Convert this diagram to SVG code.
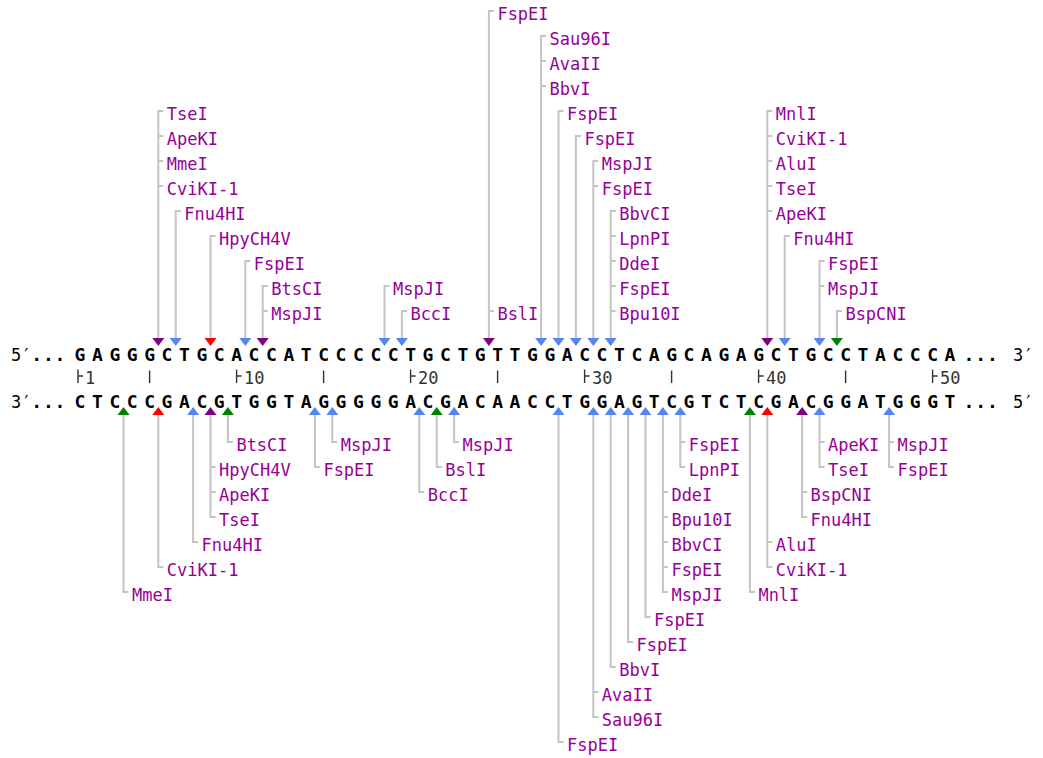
<svg xmlns="http://www.w3.org/2000/svg" width="1043" height="758" viewBox="0 0 1043 758">
<style>
  .lbl { font-family: "DejaVu Sans Mono", "Liberation Mono", monospace; font-size: 17px; fill: #960096; }
  .seq { font-family: "DejaVu Sans Mono", "Liberation Mono", monospace; font-size: 18px; font-weight: bold; fill: #000; }
  .end { font-family: "DejaVu Sans Mono", "Liberation Mono", monospace; font-size: 17px; fill: #000; }
  .dots { font-family: "DejaVu Sans Mono", "Liberation Mono", monospace; font-size: 18px; font-weight: bold; fill: #000; }
  .num { font-family: "DejaVu Sans Mono", "Liberation Mono", monospace; font-size: 17px; fill: #333; }
  .tick { stroke: #333; stroke-width: 1.4; fill: none; }
  .lead { stroke: #c4c4c4; stroke-width: 2; fill: none; }
  .pu { fill: #800080; }
  .bl { fill: #5585f0; }
  .rd { fill: #ff0000; }
  .gr { fill: #008000; }
</style>
<defs>
  <path id="dn" d="M-6,0 H6 L0,8 Z"/>
  <path id="up" d="M-6,0 H6 L0,-8 Z"/>
</defs>
<rect width="1043" height="758" fill="#fff"/>

<!-- leader lines from each cut site to its enzyme labels -->
<g id="connectors" class="lead">
  <!-- top strand -->
  <path d="M158.3,338 V111 h5 M158.3,136 h5 M158.3,161 h5 M158.3,186 h5"/>
  <path d="M175.7,338 V211 h5"/>
  <path d="M210.5,338 V236 h5"/>
  <path d="M245.3,338 V261 h5"/>
  <path d="M262.7,338 V286 h5 M262.7,311 h5"/>
  <path d="M384.5,338 V286 h5"/>
  <path d="M401.9,338 V311 h5"/>
  <path d="M488.9,338 V11 h5 M488.9,311 h5"/>
  <path d="M541.1,338 V36 h5 M541.1,61 h5 M541.1,86 h5"/>
  <path d="M558.5,338 V111 h5"/>
  <path d="M575.9,338 V136 h5"/>
  <path d="M593.3,338 V161 h5 M593.3,186 h5"/>
  <path d="M610.7,338 V211 h5 M610.7,236 h5 M610.7,261 h5 M610.7,286 h5 M610.7,311 h5"/>
  <path d="M767.3,338 V111 h5 M767.3,136 h5 M767.3,161 h5 M767.3,186 h5 M767.3,211 h5"/>
  <path d="M784.7,338 V236 h5"/>
  <path d="M819.5,338 V261 h5 M819.5,286 h5"/>
  <path d="M836.9,338 V311 h5"/>
  <!-- bottom strand -->
  <path d="M123.5,415 V592 h5"/>
  <path d="M158.3,415 V567 h5"/>
  <path d="M193.1,415 V542 h5"/>
  <path d="M210.5,415 V517 h5 M210.5,467 h5 M210.5,492 h5"/>
  <path d="M227.9,415 V442 h5"/>
  <path d="M314.9,415 V467 h5"/>
  <path d="M332.3,415 V442 h5"/>
  <path d="M419.3,415 V492 h5"/>
  <path d="M436.7,415 V467 h5"/>
  <path d="M454.1,415 V442 h5"/>
  <path d="M558.5,415 V742 h5"/>
  <path d="M593.3,415 V717 h5 M593.3,692 h5"/>
  <path d="M610.7,415 V667 h5"/>
  <path d="M628.1,415 V642 h5"/>
  <path d="M645.5,415 V617 h5"/>
  <path d="M662.9,415 V592 h5 M662.9,492 h5 M662.9,517 h5 M662.9,542 h5 M662.9,567 h5"/>
  <path d="M680.3,415 V467 h5 M680.3,442 h5"/>
  <path d="M749.9,415 V592 h5"/>
  <path d="M767.3,415 V567 h5 M767.3,542 h5"/>
  <path d="M802.1,415 V517 h5 M802.1,492 h5"/>
  <path d="M819.5,415 V467 h5 M819.5,442 h5"/>
  <path d="M889.1,415 V467 h5 M889.1,442 h5"/>
</g>

<!-- double-stranded sequence with position ruler -->
<g id="sequence">
  <text class="end" x="11" y="361">5′</text>
  <text class="dots" x="36.7 48.3 60" y="361" text-anchor="middle">...</text>
  <text class="seq" y="361" text-anchor="middle" x="80 97.4 114.8 132.2 149.6 167 184.4 201.8 219.2 236.6 254 271.4 288.8 306.2 323.6 341 358.4 375.8 393.2 410.6 428 445.4 462.8 480.2 497.6 515 532.4 549.8 567.2 584.6 602 619.4 636.8 654.2 671.6 689 706.4 723.8 741.2 758.6 776 793.4 810.8 828.2 845.6 863 880.4 897.8 915.2 932.6 950">GAGGGCTGCACCATCCCCCTGCTGTTGGACCTCAGCAGAGCTGCCTACCCA</text>
  <text class="dots" x="969 980.7 992.4" y="361" text-anchor="middle">...</text>
  <text class="end" x="1013" y="361">3′</text>

  <text class="end" x="11" y="407.5">3′</text>
  <text class="dots" x="36.7 48.3 60" y="407.5" text-anchor="middle">...</text>
  <text class="seq" y="407.5" text-anchor="middle" x="80 97.4 114.8 132.2 149.6 167 184.4 201.8 219.2 236.6 254 271.4 288.8 306.2 323.6 341 358.4 375.8 393.2 410.6 428 445.4 462.8 480.2 497.6 515 532.4 549.8 567.2 584.6 602 619.4 636.8 654.2 671.6 689 706.4 723.8 741.2 758.6 776 793.4 810.8 828.2 845.6 863 880.4 897.8 915.2 932.6 950">CTCCCGACGTGGTAGGGGGACGACAACCTGGAGTCGTCTCGACGGATGGGT</text>
  <text class="dots" x="969 980.7 992.4" y="407.5" text-anchor="middle">...</text>
  <text class="end" x="1013" y="407.5">5′</text>

  <path class="tick" d="M78,369.5 V383 M78,376 h5 M149.6,370.5 V383 M236.6,369.5 V383 M236.6,376 h5 M323.6,370.5 V383 M410.6,369.5 V383 M410.6,376 h5 M497.6,370.5 V383 M584.6,369.5 V383 M584.6,376 h5 M671.6,370.5 V383 M758.6,369.5 V383 M758.6,376 h5 M845.6,370.5 V383 M932.6,369.5 V383 M932.6,376 h5"/>
  <text class="num" x="85" y="384">1</text>
  <text class="num" x="244" y="384">10</text>
  <text class="num" x="418" y="384">20</text>
  <text class="num" x="592" y="384">30</text>
  <text class="num" x="766" y="384">40</text>
  <text class="num" x="940" y="384">50</text>
</g>

<!-- top strand cut sites -->
<g id="top-s5"><use href="#dn" class="pu" x="158.3" y="338"/>
  <text class="lbl" x="166.8" y="119.7">TseI</text><text class="lbl" x="166.8" y="144.7">ApeKI</text><text class="lbl" x="166.8" y="169.7">MmeI</text><text class="lbl" x="166.8" y="194.7">CviKI-1</text></g>
<g id="top-s6"><use href="#dn" class="bl" x="175.7" y="338"/><text class="lbl" x="184.2" y="219.7">Fnu4HI</text></g>
<g id="top-s8"><use href="#dn" class="rd" x="210.5" y="338"/><text class="lbl" x="219" y="244.7">HpyCH4V</text></g>
<g id="top-s10"><use href="#dn" class="bl" x="245.3" y="338"/><text class="lbl" x="253.8" y="269.7">FspEI</text></g>
<g id="top-s11"><use href="#dn" class="pu" x="262.7" y="338"/>
  <text class="lbl" x="271.2" y="294.7">BtsCI</text><text class="lbl" x="271.2" y="319.7">MspJI</text></g>
<g id="top-s18"><use href="#dn" class="bl" x="384.5" y="338"/><text class="lbl" x="393" y="294.7">MspJI</text></g>
<g id="top-s19"><use href="#dn" class="bl" x="401.9" y="338"/><text class="lbl" x="410.4" y="319.7">BccI</text></g>
<g id="top-s24"><use href="#dn" class="pu" x="488.9" y="338"/>
  <text class="lbl" x="497.4" y="19.7">FspEI</text><text class="lbl" x="497.4" y="319.7">BslI</text></g>
<g id="top-s27"><use href="#dn" class="bl" x="541.1" y="338"/>
  <text class="lbl" x="549.6" y="44.7">Sau96I</text><text class="lbl" x="549.6" y="69.7">AvaII</text><text class="lbl" x="549.6" y="94.7">BbvI</text></g>
<g id="top-s28"><use href="#dn" class="bl" x="558.5" y="338"/><text class="lbl" x="567" y="119.7">FspEI</text></g>
<g id="top-s29"><use href="#dn" class="bl" x="575.9" y="338"/><text class="lbl" x="584.4" y="144.7">FspEI</text></g>
<g id="top-s30"><use href="#dn" class="bl" x="593.3" y="338"/>
  <text class="lbl" x="601.8" y="169.7">MspJI</text><text class="lbl" x="601.8" y="194.7">FspEI</text></g>
<g id="top-s31"><use href="#dn" class="bl" x="610.7" y="338"/>
  <text class="lbl" x="619.2" y="219.7">BbvCI</text><text class="lbl" x="619.2" y="244.7">LpnPI</text><text class="lbl" x="619.2" y="269.7">DdeI</text><text class="lbl" x="619.2" y="294.7">FspEI</text><text class="lbl" x="619.2" y="319.7">Bpu10I</text></g>
<g id="top-s40"><use href="#dn" class="pu" x="767.3" y="338"/>
  <text class="lbl" x="775.8" y="119.7">MnlI</text><text class="lbl" x="775.8" y="144.7">CviKI-1</text><text class="lbl" x="775.8" y="169.7">AluI</text><text class="lbl" x="775.8" y="194.7">TseI</text><text class="lbl" x="775.8" y="219.7">ApeKI</text></g>
<g id="top-s41"><use href="#dn" class="bl" x="784.7" y="338"/><text class="lbl" x="793.2" y="244.7">Fnu4HI</text></g>
<g id="top-s43"><use href="#dn" class="bl" x="819.5" y="338"/>
  <text class="lbl" x="828" y="269.7">FspEI</text><text class="lbl" x="828" y="294.7">MspJI</text></g>
<g id="top-s44"><use href="#dn" class="gr" x="836.9" y="338"/><text class="lbl" x="845.4" y="319.7">BspCNI</text></g>

<!-- bottom strand cut sites -->
<g id="bot-s3"><use href="#up" class="gr" x="123.5" y="415"/><text class="lbl" x="132" y="600.7">MmeI</text></g>
<g id="bot-s5"><use href="#up" class="rd" x="158.3" y="415"/><text class="lbl" x="166.8" y="575.7">CviKI-1</text></g>
<g id="bot-s7"><use href="#up" class="bl" x="193.1" y="415"/><text class="lbl" x="201.6" y="550.7">Fnu4HI</text></g>
<g id="bot-s8"><use href="#up" class="pu" x="210.5" y="415"/>
  <text class="lbl" x="219" y="475.7">HpyCH4V</text><text class="lbl" x="219" y="500.7">ApeKI</text><text class="lbl" x="219" y="525.7">TseI</text></g>
<g id="bot-s9"><use href="#up" class="gr" x="227.9" y="415"/><text class="lbl" x="236.4" y="450.7">BtsCI</text></g>
<g id="bot-s14"><use href="#up" class="bl" x="314.9" y="415"/><text class="lbl" x="323.4" y="475.7">FspEI</text></g>
<g id="bot-s15"><use href="#up" class="bl" x="332.3" y="415"/><text class="lbl" x="340.8" y="450.7">MspJI</text></g>
<g id="bot-s20"><use href="#up" class="bl" x="419.3" y="415"/><text class="lbl" x="427.8" y="500.7">BccI</text></g>
<g id="bot-s21"><use href="#up" class="gr" x="436.7" y="415"/><text class="lbl" x="445.2" y="475.7">BslI</text></g>
<g id="bot-s22"><use href="#up" class="bl" x="454.1" y="415"/><text class="lbl" x="462.6" y="450.7">MspJI</text></g>
<g id="bot-s28"><use href="#up" class="bl" x="558.5" y="415"/><text class="lbl" x="567" y="750.7">FspEI</text></g>
<g id="bot-s30"><use href="#up" class="bl" x="593.3" y="415"/>
  <text class="lbl" x="601.8" y="700.7">AvaII</text><text class="lbl" x="601.8" y="725.7">Sau96I</text></g>
<g id="bot-s31"><use href="#up" class="bl" x="610.7" y="415"/><text class="lbl" x="619.2" y="675.7">BbvI</text></g>
<g id="bot-s32"><use href="#up" class="bl" x="628.1" y="415"/><text class="lbl" x="636.6" y="650.7">FspEI</text></g>
<g id="bot-s33"><use href="#up" class="bl" x="645.5" y="415"/><text class="lbl" x="654" y="625.7">FspEI</text></g>
<g id="bot-s34"><use href="#up" class="bl" x="662.9" y="415"/>
  <text class="lbl" x="671.4" y="500.7">DdeI</text><text class="lbl" x="671.4" y="525.7">Bpu10I</text><text class="lbl" x="671.4" y="550.7">BbvCI</text><text class="lbl" x="671.4" y="575.7">FspEI</text><text class="lbl" x="671.4" y="600.7">MspJI</text></g>
<g id="bot-s35"><use href="#up" class="bl" x="680.3" y="415"/>
  <text class="lbl" x="688.8" y="450.7">FspEI</text><text class="lbl" x="688.8" y="475.7">LpnPI</text></g>
<g id="bot-s39"><use href="#up" class="gr" x="749.9" y="415"/><text class="lbl" x="758.4" y="600.7">MnlI</text></g>
<g id="bot-s40"><use href="#up" class="rd" x="767.3" y="415"/>
  <text class="lbl" x="775.8" y="550.7">AluI</text><text class="lbl" x="775.8" y="575.7">CviKI-1</text></g>
<g id="bot-s42"><use href="#up" class="pu" x="802.1" y="415"/>
  <text class="lbl" x="810.6" y="500.7">BspCNI</text><text class="lbl" x="810.6" y="525.7">Fnu4HI</text></g>
<g id="bot-s43"><use href="#up" class="bl" x="819.5" y="415"/>
  <text class="lbl" x="828" y="450.7">ApeKI</text><text class="lbl" x="828" y="475.7">TseI</text></g>
<g id="bot-s47"><use href="#up" class="bl" x="889.1" y="415"/>
  <text class="lbl" x="897.6" y="450.7">MspJI</text><text class="lbl" x="897.6" y="475.7">FspEI</text></g>
</svg>
